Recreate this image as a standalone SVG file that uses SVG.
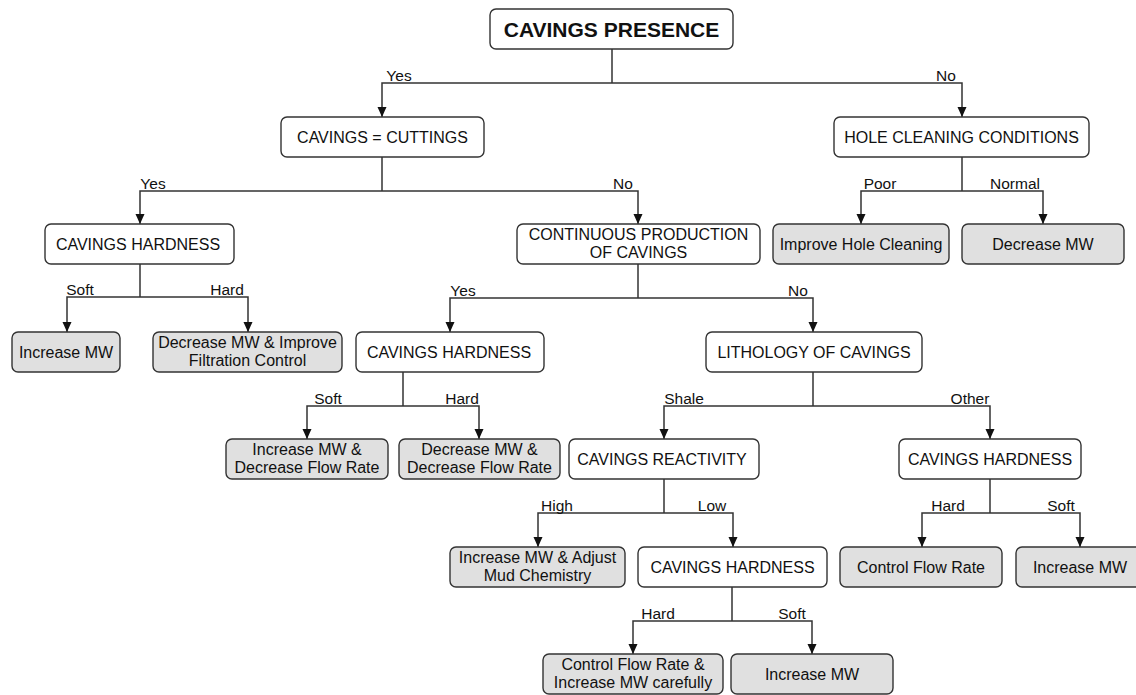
<svg xmlns="http://www.w3.org/2000/svg" width="1136" height="695" viewBox="0 0 1136 695">
<style>
.n rect{fill:#ffffff;stroke:#333333;stroke-width:1.4}
.l rect{fill:#e0e0e0;stroke:#333333;stroke-width:1.4}
text{font-family:"Liberation Sans",Arial,sans-serif;font-size:16px;fill:#111111;text-anchor:middle}
.root text{font-weight:bold;font-size:21px}
#edges path{fill:none;stroke:#333333;stroke-width:1.5;marker-end:url(#ah)}
#edges path.s{marker-end:none}
#labels text{font-size:15.5px}
</style>
<defs>
<marker id="ah" markerUnits="userSpaceOnUse" markerWidth="12" markerHeight="12" viewBox="0 0 12 12" refX="10" refY="6" orient="auto">
<path d="M0,1.5 L10,6 L0,10.5 z" fill="#111111"/>
</marker>
</defs>
<rect x="0" y="0" width="1136" height="695" fill="#ffffff"/>

<g id="edges">
<path class="s" d="M612,49 V83"/>
<path d="M612,83 H382 V117"/>
<path d="M612,83 H962 V117"/>
<path class="s" d="M382,157 V191"/>
<path d="M382,191 H140 V224"/>
<path d="M382,191 H638 V224"/>
<path class="s" d="M962,157 V191"/>
<path d="M962,191 H861 V224"/>
<path d="M962,191 H1043 V224"/>
<path class="s" d="M140,264 V297"/>
<path d="M140,297 H67 V332"/>
<path d="M140,297 H248 V332"/>
<path class="s" d="M638,264 V298"/>
<path d="M638,298 H450 V332"/>
<path d="M638,298 H813 V332"/>
<path class="s" d="M403,372 V406"/>
<path d="M403,406 H307 V439"/>
<path d="M403,406 H479 V439"/>
<path class="s" d="M813,372 V406"/>
<path d="M813,406 H664 V439"/>
<path d="M813,406 H990 V439"/>
<path class="s" d="M664,479 V513"/>
<path d="M664,513 H538 V547"/>
<path d="M664,513 H733 V547"/>
<path class="s" d="M990,479 V513"/>
<path d="M990,513 H922 V547"/>
<path d="M990,513 H1080 V547"/>
<path class="s" d="M732,587 V621"/>
<path d="M732,621 H633 V654"/>
<path d="M732,621 H812 V654"/>
</g>

<g id="labels">
<text x="399" y="81">Yes</text>
<text x="946" y="81">No</text>
<text x="153" y="189">Yes</text>
<text x="623" y="189">No</text>
<text x="880" y="189">Poor</text>
<text x="1015" y="189">Normal</text>
<text x="80" y="295">Soft</text>
<text x="227" y="295">Hard</text>
<text x="463" y="296">Yes</text>
<text x="798" y="296">No</text>
<text x="328" y="404">Soft</text>
<text x="462" y="404">Hard</text>
<text x="684" y="404">Shale</text>
<text x="970" y="404">Other</text>
<text x="557" y="511">High</text>
<text x="712" y="511">Low</text>
<text x="948" y="511">Hard</text>
<text x="1061" y="511">Soft</text>
<text x="658" y="619">Hard</text>
<text x="792" y="619">Soft</text>
</g>

<g id="root" class="n root"><rect x="490" y="9" width="243" height="40" rx="6"/><text x="611.5" y="36.5">CAVINGS PRESENCE</text></g>
<g id="cavings-cuttings" class="n"><rect x="281" y="117" width="203" height="40" rx="6"/><text x="382.5" y="142.7">CAVINGS = CUTTINGS</text></g>
<g id="hole-cleaning" class="n"><rect x="834" y="117" width="255" height="40" rx="6"/><text x="961.5" y="142.7">HOLE CLEANING CONDITIONS</text></g>
<g id="hardness-1" class="n"><rect x="45" y="224" width="189" height="40" rx="6"/><text x="138" y="249.7">CAVINGS HARDNESS</text></g>
<g id="continuous" class="n"><rect x="517" y="224" width="243" height="40" rx="6"/><text x="638.5" y="240">CONTINUOUS PRODUCTION</text><text x="638.5" y="258">OF CAVINGS</text></g>
<g id="improve-hole" class="l"><rect x="773" y="224" width="176" height="40" rx="6"/><text x="861" y="249.7">Improve Hole Cleaning</text></g>
<g id="decrease-mw-1" class="l"><rect x="962" y="224" width="162" height="40" rx="6"/><text x="1043" y="249.7">Decrease MW</text></g>
<g id="increase-mw-1" class="l"><rect x="12" y="332" width="108" height="40" rx="6"/><text x="66" y="357.7">Increase MW</text></g>
<g id="decrease-improve" class="l"><rect x="153" y="332" width="189" height="40" rx="6"/><text x="247.5" y="348">Decrease MW &amp; Improve</text><text x="247.5" y="366">Filtration Control</text></g>
<g id="hardness-2" class="n"><rect x="356" y="332" width="188" height="40" rx="6"/><text x="449" y="357.7">CAVINGS HARDNESS</text></g>
<g id="lithology" class="n"><rect x="706" y="332" width="216" height="40" rx="6"/><text x="814" y="357.7">LITHOLOGY OF CAVINGS</text></g>
<g id="inc-dec-flow" class="l"><rect x="226" y="439" width="162" height="40" rx="6"/><text x="307" y="455">Increase MW &amp;</text><text x="307" y="473">Decrease Flow Rate</text></g>
<g id="dec-dec-flow" class="l"><rect x="399" y="439" width="161" height="40" rx="6"/><text x="479.5" y="455">Decrease MW &amp;</text><text x="479.5" y="473">Decrease Flow Rate</text></g>
<g id="reactivity" class="n"><rect x="569" y="439" width="190" height="40" rx="6"/><text x="662" y="464.7">CAVINGS REACTIVITY</text></g>
<g id="hardness-3" class="n"><rect x="899" y="439" width="182" height="40" rx="6"/><text x="990" y="464.7">CAVINGS HARDNESS</text></g>
<g id="inc-adjust" class="l"><rect x="450" y="547" width="175" height="40" rx="6"/><text x="537.5" y="563">Increase MW &amp; Adjust</text><text x="537.5" y="581">Mud Chemistry</text></g>
<g id="hardness-4" class="n"><rect x="638" y="547" width="189" height="40" rx="6"/><text x="732.5" y="572.7">CAVINGS HARDNESS</text></g>
<g id="control-flow" class="l"><rect x="840" y="547" width="162" height="40" rx="6"/><text x="921" y="572.7">Control Flow Rate</text></g>
<g id="increase-mw-2" class="l"><rect x="1016" y="547" width="129" height="40" rx="6"/><text x="1080" y="572.7">Increase MW</text></g>
<g id="control-careful" class="l"><rect x="543" y="654" width="180" height="40" rx="6"/><text x="633" y="670">Control Flow Rate &amp;</text><text x="633" y="688">Increase MW carefully</text></g>
<g id="increase-mw-3" class="l"><rect x="731" y="654" width="162" height="40" rx="6"/><text x="812" y="679.7">Increase MW</text></g>
</svg>
